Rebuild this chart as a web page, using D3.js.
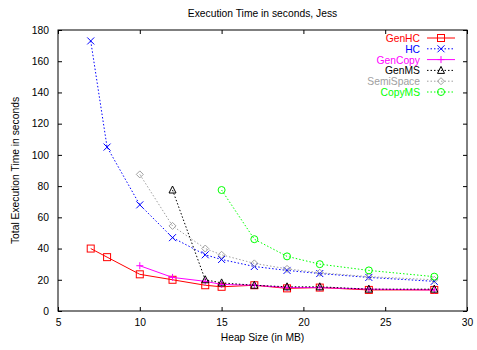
<!DOCTYPE html>
<html>
<head>
<meta charset="utf-8">
<script src="https://cdn.jsdelivr.net/npm/d3@7"></script>
<style>
  html, body { margin: 0; padding: 0; background: #fff; }
  svg { display: block; font-family: "Liberation Sans", Arial, sans-serif; }
</style>
</head>
<body>
<svg id="chart" width="477" height="350"></svg>
<script>
// Heap sizes (MB) and execution times (s) for each collector
const heapGenHC = [7, 8, 10, 12, 14, 15, 17, 19, 21, 24, 28];
const timeGenHC = [40, 34.5, 23.5, 20, 16.5, 15.5, 16.5, 14.5, 15, 13.5, 13.5];

const heapHC = [7, 8, 10, 12, 14, 15, 17, 19, 21, 24, 28];
const timeHC = [173, 105, 68, 47, 36, 33, 28.5, 26, 24, 21.5, 19];

const heapGenCopy = [10, 12, 14, 15, 17, 19, 21, 24, 28];
const timeGenCopy = [29, 21.5, 19, 17, 16.5, 15, 15, 14, 13.5];

const heapGenMS = [12, 14, 15, 17, 19, 21, 24, 28];
const timeGenMS = [77.5, 20, 18, 16.5, 15.5, 15.5, 14, 14];

const heapSemiSpace = [10, 12, 14, 15, 17, 19, 21, 24, 28];
const timeSemiSpace = [87.5, 54.5, 40, 36, 30.5, 27, 24.5, 22, 20];

const heapCopyMS = [15, 17, 19, 21, 24, 28];
const timeCopyMS = [77.5, 46, 35, 30, 26, 22];

const seriesNames = ["GenHC", "HC", "GenCopy", "GenMS", "SemiSpace", "CopyMS"];
const xTicks = [5, 10, 15, 20, 25, 30];
const yTicks = [0, 20, 40, 60, 80, 100, 120, 140, 160, 180];

const series = [
  { xs: heapGenHC, ys: timeGenHC, color: "#ff0000", dash: null, marker: "square" },
  { xs: heapHC, ys: timeHC, color: "#0000ff", dash: "1.5,2", marker: "cross" },
  { xs: heapGenCopy, ys: timeGenCopy, color: "#ff00ff", dash: null, marker: "plus" },
  { xs: heapGenMS, ys: timeGenMS, color: "#000000", dash: "1.5,2", marker: "triangle" },
  { xs: heapSemiSpace, ys: timeSemiSpace, color: "#a0a0a0", dash: "1.5,2", marker: "diamond" },
  { xs: heapCopyMS, ys: timeCopyMS, color: "#00ff00", dash: "1.5,2", marker: "circle" }
];

const svg = d3.select("#chart");
const plotLeft = 58, plotRight = 467, plotTop = 30, plotBottom = 311;

const x = d3.scaleLinear().domain([5, 30]).range([plotLeft, plotRight]);
const y = d3.scaleLinear().domain([0, 180]).range([plotBottom, plotTop]);

const axisColor = "#000";
const fontSize = 10.3;

// Axes with inward ticks on all four sides
svg.append("g").attr("transform", `translate(0,${plotBottom})`)
  .call(d3.axisBottom(x).tickValues(xTicks).tickSize(-4).tickPadding(8))
  .call(g => g.select(".domain").remove());
svg.append("g").attr("transform", `translate(0,${plotTop})`)
  .call(d3.axisTop(x).tickValues(xTicks).tickSize(-4).tickFormat(""))
  .call(g => g.select(".domain").remove());
svg.append("g").attr("transform", `translate(${plotLeft},0)`)
  .call(d3.axisLeft(y).tickValues(yTicks).tickSize(-4).tickPadding(9))
  .call(g => g.select(".domain").remove());
svg.append("g").attr("transform", `translate(${plotRight},0)`)
  .call(d3.axisRight(y).tickValues(yTicks).tickSize(-4).tickFormat(""))
  .call(g => g.select(".domain").remove());

svg.selectAll(".tick text")
  .attr("font-size", fontSize)
  .attr("font-family", "Liberation Sans, Arial, sans-serif")
  .attr("fill", "#000");
svg.selectAll(".tick line").attr("stroke", axisColor);

svg.append("rect")
  .attr("x", plotLeft).attr("y", plotTop)
  .attr("width", plotRight - plotLeft).attr("height", plotBottom - plotTop)
  .attr("fill", "none").attr("stroke", axisColor).attr("stroke-width", 1);

// Titles
svg.append("text").attr("x", (plotLeft + plotRight) / 2).attr("y", 17)
  .attr("text-anchor", "middle").attr("font-size", fontSize)
  .text("Execution Time in seconds, Jess");
svg.append("text").attr("x", (plotLeft + plotRight) / 2).attr("y", 341)
  .attr("text-anchor", "middle").attr("font-size", fontSize)
  .text("Heap Size (in MB)");
svg.append("text")
  .attr("transform", `translate(19,${(plotTop + plotBottom) / 2}) rotate(-90)`)
  .attr("text-anchor", "middle").attr("font-size", fontSize)
  .text("Total Execution Time in seconds");

// Marker glyphs
function drawMarker(g, type, cx, cy, color) {
  const s = 3.5;
  if (type === "square") {
    g.append("rect").attr("x", cx - s).attr("y", cy - s).attr("width", 2 * s).attr("height", 2 * s)
      .attr("fill", "none").attr("stroke", color);
  } else if (type === "cross") {
    g.append("path").attr("d", `M${cx - s},${cy - s}L${cx + s},${cy + s}M${cx - s},${cy + s}L${cx + s},${cy - s}`)
      .attr("stroke", color).attr("fill", "none");
  } else if (type === "plus") {
    g.append("path").attr("d", `M${cx - s},${cy}L${cx + s},${cy}M${cx},${cy - s}L${cx},${cy + s}`)
      .attr("stroke", color).attr("fill", "none");
  } else if (type === "triangle") {
    g.append("path").attr("d", `M${cx},${cy - s - 0.5}L${cx + s},${cy + s - 0.5}L${cx - s},${cy + s - 0.5}Z`)
      .attr("stroke", color).attr("fill", "none");
  } else if (type === "diamond") {
    g.append("path").attr("d", `M${cx},${cy - s}L${cx + s},${cy}L${cx},${cy + s}L${cx - s},${cy}Z`)
      .attr("stroke", color).attr("fill", "none");
  } else if (type === "circle") {
    g.append("circle").attr("cx", cx).attr("cy", cy).attr("r", s)
      .attr("stroke", color).attr("fill", "none");
  }
}

const line = d3.line().x(d => x(d[0])).y(d => y(d[1]));

series.forEach(s => {
  const g = svg.append("g");
  const pts = s.xs.map((v, i) => [v, s.ys[i]]);
  g.append("path").datum(pts).attr("d", line)
    .attr("fill", "none").attr("stroke", s.color).attr("stroke-width", 1)
    .attr("stroke-dasharray", s.dash);
  pts.forEach(p => drawMarker(g, s.marker, x(p[0]), y(p[1]), s.color));
});

// Legend
const legendX = 420, legendY0 = 38, legendDy = 10.8;
series.forEach((s, i) => {
  const ly = legendY0 + i * legendDy;
  const g = svg.append("g");
  g.append("text").attr("x", legendX).attr("y", ly + 4)
    .attr("text-anchor", "end").attr("font-size", fontSize)
    .attr("fill", s.color).text(seriesNames[i]);
  g.append("line").attr("x1", 427).attr("x2", 455).attr("y1", ly).attr("y2", ly)
    .attr("stroke", s.color).attr("stroke-dasharray", s.dash);
  drawMarker(g, s.marker, 441, ly, s.color);
});
</script>
</body>
</html>
